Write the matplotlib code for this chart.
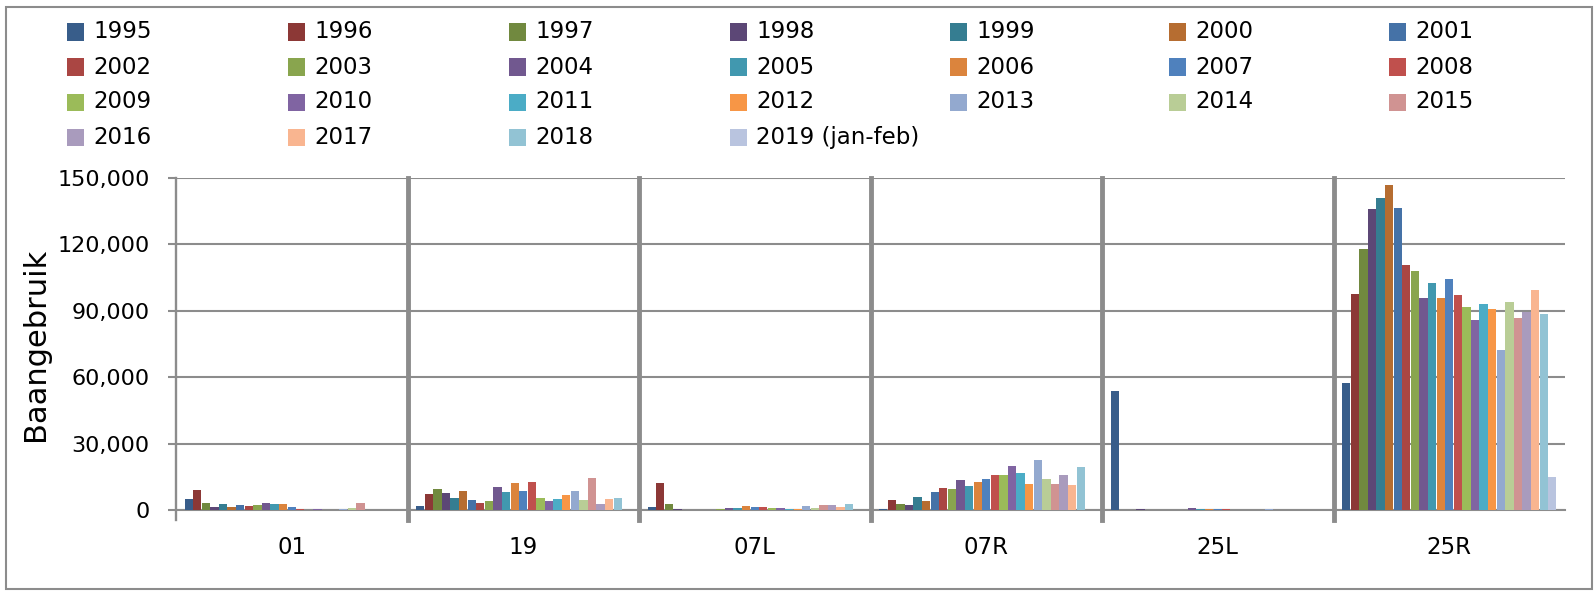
import numpy as np
from matplotlib import pyplot as plt
from matplotlib.patches import Rectangle

runways = ['01', '19', '07L', '07R', '25L', '25R']
years = ['1995', '1996', '1997', '1998', '1999', '2000', '2001', '2002', '2003',
         '2004', '2005', '2006', '2007', '2008', '2009', '2010', '2011', '2012',
         '2013', '2014', '2015', '2016', '2017', '2018', '2019 (jan-feb)']

# values per runway, one entry per year (1995 .. 2019)
r01 = [4800, 8850, 3300, 1350, 2550, 1200, 2100, 1650, 2250, 3000, 2550, 2850, 1350,
       450, 150, 450, 0, 0, 300, 750, 3300, 0, 0, 0, 0]
r19 = [1650, 7350, 9300, 7650, 5550, 8700, 4650, 3000, 4200, 10500, 7950, 12300, 8700,
       12600, 5550, 4050, 4950, 6750, 8700, 4650, 14250, 2850, 4950, 5250, 0]
r07L = [1350, 12000, 2700, 300, 0, 0, 0, 0, 450, 900, 900, 1800, 1500,
        1350, 900, 900, 450, 450, 1650, 750, 2100, 2100, 1350, 2550, 0]
r07R = [450, 4350, 2850, 2250, 6000, 4200, 8100, 9900, 9300, 13500, 10650, 12600, 14100,
        15600, 15600, 20100, 16500, 11700, 22800, 13950, 11550, 15750, 11100, 19500, 0]
r25L = [53600, 0, 0, 300, 0, 0, 0, 0, 0, 900, 300, 450, 300,
        300, 0, 0, 0, 0, 300, 0, 0, 0, 0, 0, 0]
r25R = [57500, 97500, 118000, 136000, 141000, 147000, 136500, 110700, 108200, 95700,
        102500, 95700, 104400, 97200, 91800, 85700, 93000, 90800, 72500, 93900,
        86700, 89400, 99600, 88700, 14700]

colors = ['#385D8A', '#8C3836', '#71893F', '#5C4776', '#357D91', '#B66D31', '#4572A7',
          '#AA4643', '#89A54E', '#71588F', '#4198AF', '#DB843D', '#4F81BD', '#C0504D',
          '#9BBB59', '#8064A2', '#4BACC6', '#F79646', '#93A9CF', '#B9CD96', '#D09392',
          '#A99BBD', '#F9B590', '#92C3D4', '#B9C4DF']

data = np.array([r01, r19, r07L, r07R, r25L, r25R])
grey = '#8c8c8c'
W, H = 1595, 591

fig = plt.figure(figsize=(W / 100, H / 100), dpi=100)
ax = fig.add_axes([176 / W, (H - 510) / H, (1565 - 176) / W, (510 - 178) / H])

n = len(years)
w = 0.927 / n
x = np.arange(len(runways))
for j in range(n):
    ax.bar(x + (j - (n - 1) / 2) * w, data[:, j], w * 0.97, color=colors[j],
           linewidth=0, zorder=3)

ax.set_xlim(-0.5, len(runways) - 0.5)
ax.set_ylim(0, 150000)
ax.set_yticks(np.arange(0, 150001, 30000))
ax.set_yticklabels(['{:,}'.format(v) for v in range(0, 150001, 30000)])
ax.yaxis.grid(True, color=grey, linewidth=1.5, zorder=0)
ax.set_axisbelow(True)
ax.set_xticks(x)
ax.set_xticklabels(runways)
ax.tick_params(axis='x', length=0, pad=19, labelsize=16.5)
ax.tick_params(axis='y', length=6, width=1.5, color=grey, pad=13, labelsize=16)

for s in ['top', 'right', 'left']:
    ax.spines[s].set_visible(False)
ax.spines['bottom'].set_color(grey)
ax.spines['bottom'].set_linewidth(1.5)

ax.axvline(-0.5, ymin=-0.03, ymax=1, color=grey, lw=1.7, clip_on=False, zorder=4)
for b in np.arange(0.5, len(runways) - 1, 1):
    ax.axvline(b, ymin=-0.03, ymax=1, color=grey, lw=3.5, clip_on=False, zorder=4)

fig.text(36 / W, 1 - 344 / H, 'Baangebruik', rotation=90, ha='center', va='center',
         fontsize=22)

# legend, filled row by row
col_x = [67, 288, 509, 730, 950, 1169, 1389]
row_y = [32, 67, 102, 137]
for i, yr in enumerate(years):
    cx = col_x[i % 7]
    cy = row_y[i // 7]
    fig.add_artist(Rectangle((cx / W, 1 - (cy + 8.5) / H), 17 / W, 17 / H,
                             transform=fig.transFigure, facecolor=colors[i],
                             edgecolor='none'))
    fig.text((cx + 26) / W, 1 - cy / H, yr, ha='left', va='center', fontsize=16.5)

fig.add_artist(Rectangle((6 / W, 2 / H), (1592 - 6) / W, (589 - 7) / H,
                         transform=fig.transFigure, fill=False, edgecolor=grey, lw=1.5))

plt.savefig('out.png', dpi=100)
